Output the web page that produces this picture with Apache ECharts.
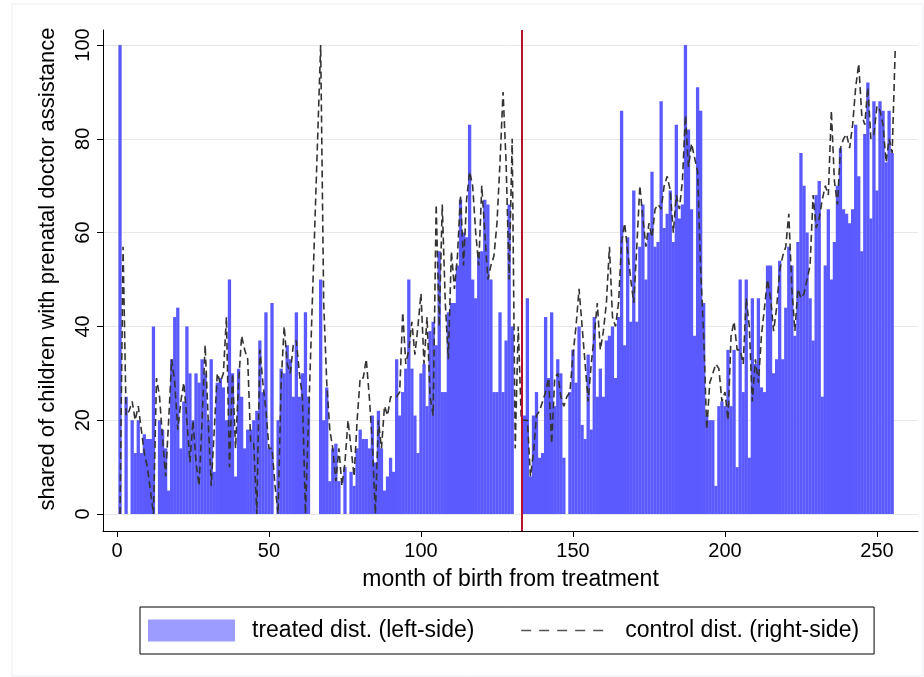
<!DOCTYPE html>
<html>
<head>
<meta charset="utf-8">
<script src="https://cdn.jsdelivr.net/npm/echarts@6/dist/echarts.min.js"></script>
<style>
html,body{margin:0;padding:0;background:#fff;}
#chart{width:924px;height:677px;}
</style>
</head>
<body>
<div id="chart"></div>
<script>
// ---- data (months 1..130 and 134..255 for treated; control 1..62, 67..133, 134..256) ----
const treatedPreStart = 1;
const treatedPre = [100,0,25,0,20,13,20,13,17,16, 16,40,0,20,18,14,5,33,42,44,
  14,24,40,30,20,30,28,33,30,20, 33,9,28,29,27,20,50,30,8,31,
  25,14,18,18,20,22,37,26,43,14, 45,0,20,31,30,36,33,25,43,25,
  30,43,25,0,0,0,
  50,20,27,7,14,15,7,0,10,0, 9,6,14,18,16,16,14,21,11,22,
  14,5,8,12,9,33,21,26,31,50, 31,21,13,30,32,23,39,41,36,56,
  26,26,43,45,45,53,67,60,59,83, 50,46,55,56,67,66,50,26,26,43,
  26,37,66,40];
const treatedPostStart = 134;
const treatedPost = [21,46,8,21,26,12,13,42,29,43, 23,33,30,12,0,26,35,28,40,19,
  16,34,18,42,25,31,25,37,38,40, 29,42,86,36,59,41,69,41,57,66,
  50,60,73,57,58,88,61,64,69,58, 83,63,66,100,82,65,38,91,86,45,
  21,20,20,6,23,24,23,35,23,35, 10,50,26,50,12,46,32,46,27,26,
  53,53,30,33,54,33,44,57,53,38, 58,77,70,60,46,37,68,71,25,53,
  65,50,58,70,78,65,64,62,65,83, 72,56,81,92,63,88,69,88,86,75,
  86,77];
const controlAStart = 1;
const controlA = [0,57,21,22,24,20,23,18,13,10, 5,0,29,25,16,8,20,33,28,18,
  24,28,20,11,20,11,6,20,36,20, 6,18,30,28,30,42,10,30,14,28,
  38,35,33,15,15,0,35,28,22,14, 14,6,0,28,40,32,30,36,37,30, 25,0];
const controlBStart = 67;
const controlB = [100,45,28,18,14,7,14,6,11,20, 14,8,20,29,29,33,25,15,0,20,
  14,23,21,25,25,25,26,43,32,35, 41,34,40,47,32,42,25,21,66,40,
  66,45,33,56,48,55,68,53,67,73, 70,60,53,70,60,50,53,55,62,75,
  90,75,50,80,14,40,20];
const controlCStart = 134;
const controlC = [20,20,8,13,21,22,24,26,29,15, 29,30,25,23,25,26,34,40,48,40,
  32,24,32,38,45,35,39,45,57,42, 40,45,58,62,56,50,45,57,70,63,
  57,62,59,65,66,65,70,72,69,60, 68,65,71,85,74,79,76,73,52,38,
  18,28,30,32,31,24,26,20,38,41, 35,35,32,46,40,24,33,28,38,44,
  50,46,39,44,52,55,57,64,48,39, 48,46,47,50,53,68,61,63,67,70,
  68,86,71,66,78,80,81,78,83,91, 96,85,83,91,80,81,87,86,83,75,
  80,77,99];
const treatmentMonth = 133;
const xTicks = [0,50,100,150,200,250];
const yTicks = [0,20,40,60,80,100];
const xTitle = 'month of birth from treatment';
const yTitle = 'shared of children with prenatal doctor assistance';
const treatedName = 'treated dist. (left-side)';
const controlName = 'control dist. (right-side)';

function pairs(start, arr){ return arr.map((v,i)=>[start+i, v]); }
const treatedData = pairs(treatedPreStart, treatedPre).concat(pairs(treatedPostStart, treatedPost));
const controlData = pairs(controlAStart, controlA).concat(pairs(controlBStart, controlB)).concat(pairs(controlCStart, controlC));

const FONT = 'Liberation Sans, Arial, sans-serif';
const chart = echarts.init(document.getElementById('chart'), null, {renderer:'canvas'});
chart.setOption({
  animation:false,
  backgroundColor:'#fff',
  textStyle:{fontFamily:FONT},
  grid:{left:103, right:6, top:30, bottom:146, containLabel:false},
  xAxis:{
    type:'value', min:-4.6, max:263.5,
    axisLine:{show:true, onZero:false, lineStyle:{color:'#000', width:1}},
    axisTick:{show:true, length:6, lineStyle:{color:'#000'}, customValues:xTicks},
    axisLabel:{color:'#000', fontSize:20, margin:10, fontFamily:FONT, customValues:xTicks},
    splitLine:{show:false},
    name:xTitle, nameLocation:'middle', nameGap:37,
    nameTextStyle:{color:'#000', fontSize:23, fontFamily:FONT}
  },
  yAxis:{
    type:'value', min:-3.62, max:103.2,
    axisLine:{show:true, onZero:false, lineStyle:{color:'#000', width:1}},
    axisTick:{show:true, length:6, lineStyle:{color:'#000'}, customValues:yTicks},
    axisLabel:{color:'#000', fontSize:20, rotate:90, margin:10, fontFamily:FONT, customValues:yTicks},
    splitLine:{show:true, lineStyle:{color:'#e8e8e8', width:1}}
  },
  legend:{
    left:140, top:607,
    borderColor:'#000', borderWidth:1, padding:[12,15,12,8],
    itemWidth:87, itemHeight:22, itemGap:46,
    textStyle:{color:'#000', fontSize:23, fontFamily:FONT, padding:[0,0,0,12]},
    data:[
      {name:treatedName, icon:'rect', itemStyle:{color:'#9c9cff'}},
      {name:controlName, itemStyle:{opacity:0, color:'rgba(0,0,0,0)', borderWidth:0}, lineStyle:{color:'#555', width:1.5, type:[10,8]}}
    ]
  },
  graphic:[
    {type:'rect', shape:{x:12,y:4,width:911,height:672}, style:{fill:'none', stroke:'#e9edf2', lineWidth:1}, silent:true},
    {type:'text', x:48, y:269, rotation:Math.PI/2, silent:true,
     style:{text:yTitle, fontSize:22, fontFamily:FONT, fill:'#000', align:'center', verticalAlign:'middle'}}
  ],
  series:[
    {
      name:treatedName, type:'bar', data:treatedData, barWidth:3.3,
      itemStyle:{color:'#5a5aff'}, z:2
    },
    {
      name:controlName, type:'line', data:controlData, symbol:'none', showSymbol:false, connectNulls:true,
      lineStyle:{color:'#333', width:1.6, type:[7,4]}, z:3,
      markLine:{
        silent:true, symbol:'none', animation:false,
        label:{show:false},
        lineStyle:{color:'#b5112c', width:2, type:'solid'},
        data:[{xAxis:treatmentMonth}]
      }
    }
  ]
});
</script>
</body>
</html>
